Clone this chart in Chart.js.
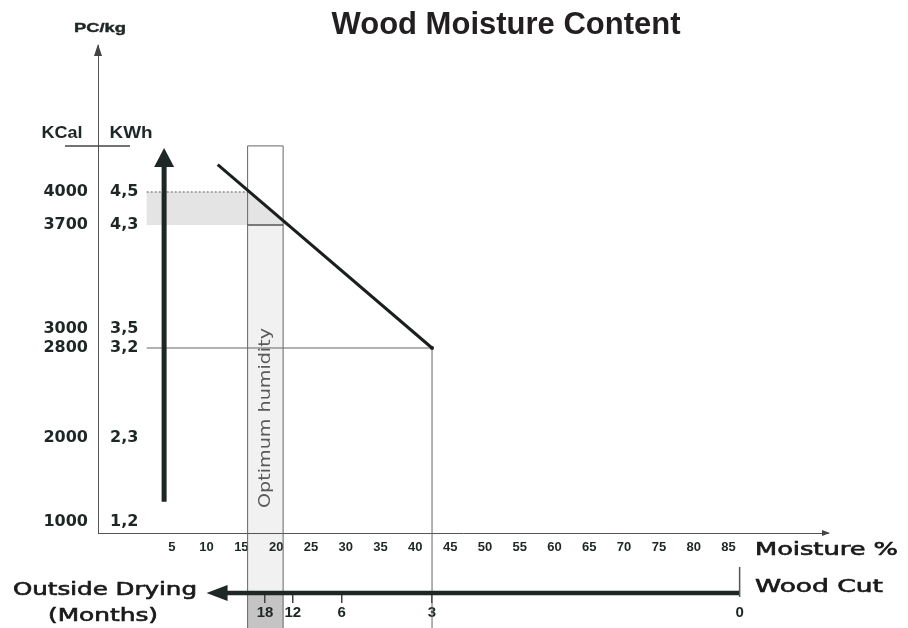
<!DOCTYPE html>
<html>
<head>
<meta charset="utf-8">
<title>Wood Moisture Content</title>
<script src="https://cdn.jsdelivr.net/npm/chart.js@4.4.0/dist/chart.umd.min.js"></script>
<style>
  html, body { margin: 0; padding: 0; background: #fff; }
  #wrap { width: 908px; height: 628px; }
</style>
</head>
<body>
<div id="wrap"><canvas id="myChart" width="908" height="628"></canvas></div>
<script>
// moisture axis (%)
var moistureTicks = [5, 10, 15, 20, 25, 30, 35, 40, 45, 50, 55, 60, 65, 70, 75, 80, 85];
// calorific value per kg
var kcalTicks = [1000, 2000, 2800, 3000, 3700, 4000];
var kwhTicks = ['1,2', '2,3', '3,2', '3,5', '4,3', '4,5'];
// calorific value vs moisture
var lineMoisture = [11.6, 42.4];
var lineKcal = [4250, 2800];
// optimum humidity band (moisture %)
var optimumMoisture = [15.9, 21];
// outside drying (months) and the moisture reached
var monthLabels = ['18', '12', '6', '3', '0'];
var monthMoisture = [18.4, 22.4, 29.4, 42.4, 86.6];

// the KCal axis of the drawing is not to scale: value -> share of the axis height
var yKnotValue = [870, 1000, 2000, 2800, 3000, 3700, 4000, 5340];
var yKnotPos = [0, 0.0225, 0.1947, 0.3791, 0.4180, 0.6311, 0.6988, 1];

var ink = '#1d2725';
var sans = '"Liberation Sans", Arial, sans-serif';
var wide = '"DejaVu Sans", sans-serif';

function knotDecimal(v) {
  for (var i = 1; i < yKnotValue.length; i++) {
    if (v <= yKnotValue[i] || i == yKnotValue.length - 1) {
      var t = (v - yKnotValue[i - 1]) / (yKnotValue[i] - yKnotValue[i - 1]);
      return yKnotPos[i - 1] + t * (yKnotPos[i] - yKnotPos[i - 1]);
    }
  }
}
function knotValue(d) {
  for (var i = 1; i < yKnotPos.length; i++) {
    if (d <= yKnotPos[i] || i == yKnotPos.length - 1) {
      var t = (d - yKnotPos[i - 1]) / (yKnotPos[i] - yKnotPos[i - 1]);
      return yKnotValue[i - 1] + t * (yKnotValue[i] - yKnotValue[i - 1]);
    }
  }
}

// linear scale bent through the knots above
class KnotScale extends Chart.LinearScale {
  getPixelForValue(value) {
    return this.getPixelForDecimal(knotDecimal(value));
  }
  getValueForPixel(pixel) {
    return knotValue(this.getDecimalForPixel(pixel));
  }
}
KnotScale.id = 'knot';
KnotScale.defaults = Chart.LinearScale.defaults;
Chart.register(KnotScale);

// text squeezed/stretched to the width it has in the drawing
function fitText(ctx, text, x, y, font, width, align, color, heavy) {
  ctx.save();
  ctx.font = font;
  ctx.fillStyle = color || ink;
  ctx.textBaseline = 'middle';
  ctx.textAlign = align || 'left';
  var sx = width / ctx.measureText(text).width;
  ctx.translate(x, y);
  ctx.scale(sx, 1);
  ctx.fillText(text, 0, 0);
  if (heavy) {
    ctx.strokeStyle = color || ink;
    ctx.lineWidth = heavy;
    ctx.strokeText(text, 0, 0);
  }
  ctx.restore();
}

function line(ctx, x1, y1, x2, y2, color, w, dash) {
  ctx.save();
  ctx.strokeStyle = color;
  ctx.lineWidth = w;
  ctx.setLineDash(dash || []);
  ctx.beginPath();
  ctx.moveTo(x1, y1);
  ctx.lineTo(x2, y2);
  ctx.stroke();
  ctx.restore();
}

function tri(ctx, pts, color) {
  ctx.fillStyle = color;
  ctx.beginPath();
  ctx.moveTo(pts[0], pts[1]);
  ctx.lineTo(pts[2], pts[3]);
  ctx.lineTo(pts[4], pts[5]);
  ctx.closePath();
  ctx.fill();
}

// pixel helpers shared by the hooks
function geo(chart) {
  var xs = chart.scales.x, ys = chart.scales.y;
  var g = {
    bx1: xs.getPixelForValue(optimumMoisture[0]),
    bx2: xs.getPixelForValue(optimumMoisture[1]),
    boxTop: ys.getPixelForValue(4420),
    y4000: ys.getPixelForValue(4000),
    y3700: ys.getPixelForValue(3700),
    y2800: ys.getPixelForValue(2800),
    arrowY: chart.scales.xm.top,
    refStart: xs.getPixelForValue(1.4),
    p0x: xs.getPixelForValue(lineMoisture[0]), p0y: ys.getPixelForValue(lineKcal[0]),
    p1x: xs.getPixelForValue(lineMoisture[1]), p1y: ys.getPixelForValue(lineKcal[1])
  };
  g.lineX = function(py) { return g.p0x + (py - g.p0y) * (g.p1x - g.p0x) / (g.p1y - g.p0y); };
  return g;
}

var drawing = {
  id: 'drawing',
  // fills go under the axes and their labels
  beforeDraw: function(chart) {
    var ctx = chart.ctx, g = geo(chart), H = chart.height;
    ctx.save();
    ctx.fillStyle = '#f1f1f1';
    ctx.fillRect(g.bx1, g.y3700, g.bx2 - g.bx1, g.arrowY - g.y3700);
    ctx.fillStyle = '#c4c4c4';
    ctx.fillRect(g.bx1, g.arrowY, g.bx2 - g.bx1, H - g.arrowY);

    // band between 3700 and 4000 kcal
    ctx.fillStyle = '#e4e4e4';
    ctx.beginPath();
    ctx.moveTo(g.refStart, g.y4000);
    ctx.lineTo(g.lineX(g.y4000), g.y4000);
    ctx.lineTo(g.lineX(g.y3700), g.y3700);
    ctx.lineTo(g.refStart, g.y3700);
    ctx.closePath();
    ctx.fill();
    ctx.restore();
  },
  beforeDatasetsDraw: function(chart) {
    var ctx = chart.ctx, g = geo(chart), H = chart.height;
    line(ctx, g.refStart, g.y4000, g.lineX(g.y4000), g.y4000, '#8a8a8a', 1.5, [2, 2]);

    // 2800 kcal level and its moisture
    line(ctx, g.refStart, g.y2800, g.p1x, g.y2800, '#666', 1);
    line(ctx, g.p1x, g.y2800, g.p1x, H, '#666', 1);

    // box outline
    line(ctx, g.bx1, g.boxTop, g.bx2, g.boxTop, '#666', 1);
    line(ctx, g.bx1, g.boxTop, g.bx1, H, '#666', 1);
    line(ctx, g.bx2, g.boxTop, g.bx2, H, '#666', 1);
    line(ctx, g.bx1, g.y3700, g.bx2, g.y3700, '#555', 1.5);

    // rotated box label
    ctx.save();
    ctx.translate((g.bx1 + g.bx2) / 2, 418);
    ctx.rotate(-Math.PI / 2);
    fitText(ctx, 'Optimum humidity', 0, 0, '16px ' + wide, 180, 'center', '#5a5a5a');
    ctx.restore();
  },
  afterDraw: function(chart) {
    var ctx = chart.ctx, xs = chart.scales.x, ys = chart.scales.y, xm = chart.scales.xm;
    var area = chart.chartArea;

    // axis arrow heads
    tri(ctx, [area.left, area.top - 1, area.left - 4, area.top + 11, area.left + 4, area.top + 11], '#444');
    tri(ctx, [area.right + 2, area.bottom, area.right - 6, area.bottom - 3, area.right - 6, area.bottom + 3], '#444');

    // thick arrow: rising calorific value
    var ax = xs.getPixelForValue(3.9);
    var aTop = ys.getPixelForValue(4400), aBot = ys.getPixelForValue(1240);
    line(ctx, ax, aBot, ax, aTop + 18, ink, 5);
    tri(ctx, [ax, aTop, ax - 10, aTop + 19, ax + 10, aTop + 19], ink);

    // outside drying arrow (months)
    var my = xm.top;
    var mStart = xs.getPixelForValue(10), mEnd = xs.getPixelForValue(monthMoisture[4]);
    line(ctx, mStart + 18, my, mEnd, my, ink, 4.5);
    tri(ctx, [mStart, my, mStart + 21, my - 8, mStart + 21, my + 8], ink);
    line(ctx, mEnd, my - 26, mEnd, my + 4, '#555', 1.5);

    // texts
    ctx.save();
    ctx.font = 'bold 31px ' + sans;
    ctx.fillStyle = '#231f20';
    ctx.textAlign = 'center';
    ctx.textBaseline = 'middle';
    ctx.fillText('Wood Moisture Content', 506, 25);
    ctx.restore();

    fitText(ctx, 'PC/kg', area.left + 2, 28, 'bold 13px ' + sans, 52, 'center', ink, 0.4);
    fitText(ctx, 'KCal', 62, 134, 'bold 16px ' + sans, 41, 'center');
    fitText(ctx, 'KWh', 131, 134, 'bold 16px ' + sans, 43, 'center');
    line(ctx, 65, 146, 130, 146, '#444', 1.5);

    fitText(ctx, 'Moisture %', 755, 551, '17px ' + wide, 143, 'left', '#1a1a1a', 0.6);
    fitText(ctx, 'Wood Cut', 755, 588, '17px ' + wide, 128, 'left', '#1a1a1a', 0.6);
    fitText(ctx, 'Outside Drying', 197, 591, '17px ' + wide, 184, 'right', '#1a1a1a', 0.6);
    fitText(ctx, '(Months)', 103, 617, '17px ' + wide, 110, 'center', '#1a1a1a', 0.6);
  }
};

var ctx = document.getElementById('myChart');
new Chart(ctx, {
  type: 'line',
  data: {
    datasets: [{
      data: lineMoisture.map(function(m, i) { return {x: m, y: lineKcal[i]}; }),
      borderColor: '#1a1f1e',
      borderWidth: 3,
      pointRadius: [0, 2],
      pointBackgroundColor: '#1a1f1e',
      pointBorderWidth: 0,
      fill: false
    }]
  },
  options: {
    responsive: false,
    animation: false,
    layout: {padding: {top: 45, right: 80, bottom: 0, left: 0}},
    plugins: {legend: {display: false}, tooltip: {enabled: false}},
    scales: {
      x: {
        type: 'linear', axis: 'x', position: 'bottom', weight: 0,
        min: -5.6, max: 99.3,
        afterBuildTicks: function(s) { s.ticks = moistureTicks.map(function(v) { return {value: v}; }); },
        afterFit: function(s) { s.height = 60; },
        grid: {display: false, drawTicks: false},
        border: {display: true, color: '#555', width: 1},
        ticks: {
          autoSkip: false, maxRotation: 0, padding: 7, color: ink,
          font: {family: sans, size: 13, weight: 'bold'},
          callback: function(v) { return String(v); }
        }
      },
      xm: {
        type: 'linear', axis: 'x', position: 'bottom', weight: 1,
        min: -5.6, max: 99.3,
        afterBuildTicks: function(s) { s.ticks = monthMoisture.map(function(v) { return {value: v}; }); },
        afterFit: function(s) { s.height = 35; },
        grid: {
          display: true, drawOnChartArea: false, drawTicks: true, tickLength: 10, lineWidth: 1.5,
          color: function(c) { return c.tick && c.tick.value > 80 ? 'rgba(0,0,0,0)' : '#444'; }
        },
        border: {display: false},
        ticks: {
          autoSkip: false, maxRotation: 0, padding: 1, color: ink,
          font: {family: sans, size: 15, weight: 'bold'},
          callback: function(v, i) { return monthLabels[i]; }
        }
      },
      y: {
        type: 'knot', axis: 'y', position: 'left', weight: 1,
        min: yKnotValue[0], max: yKnotValue[yKnotValue.length - 1],
        afterBuildTicks: function(s) { s.ticks = kcalTicks.map(function(v) { return {value: v}; }); },
        afterFit: function(s) { s.width = 98; },
        grid: {display: false, drawTicks: false},
        border: {display: true, color: '#555', width: 1},
        ticks: {
          autoSkip: false, padding: 10, color: ink,
          font: {family: wide, size: 16, weight: 'bold'},
          callback: function(v) { return String(v); }
        }
      },
      yw: {
        type: 'knot', axis: 'y', position: 'left', weight: 0,
        min: yKnotValue[0], max: yKnotValue[yKnotValue.length - 1],
        afterBuildTicks: function(s) { s.ticks = kcalTicks.map(function(v) { return {value: v}; }); },
        afterFit: function(s) { s.width = 0; },
        grid: {display: false, drawTicks: false},
        border: {display: false},
        ticks: {
          autoSkip: false, mirror: true, padding: 12, color: ink,
          font: {family: wide, size: 16, weight: 'bold'},
          callback: function(v, i) { return kwhTicks[i]; }
        }
      }
    }
  },
  plugins: [drawing]
});
</script>
</body>
</html>
